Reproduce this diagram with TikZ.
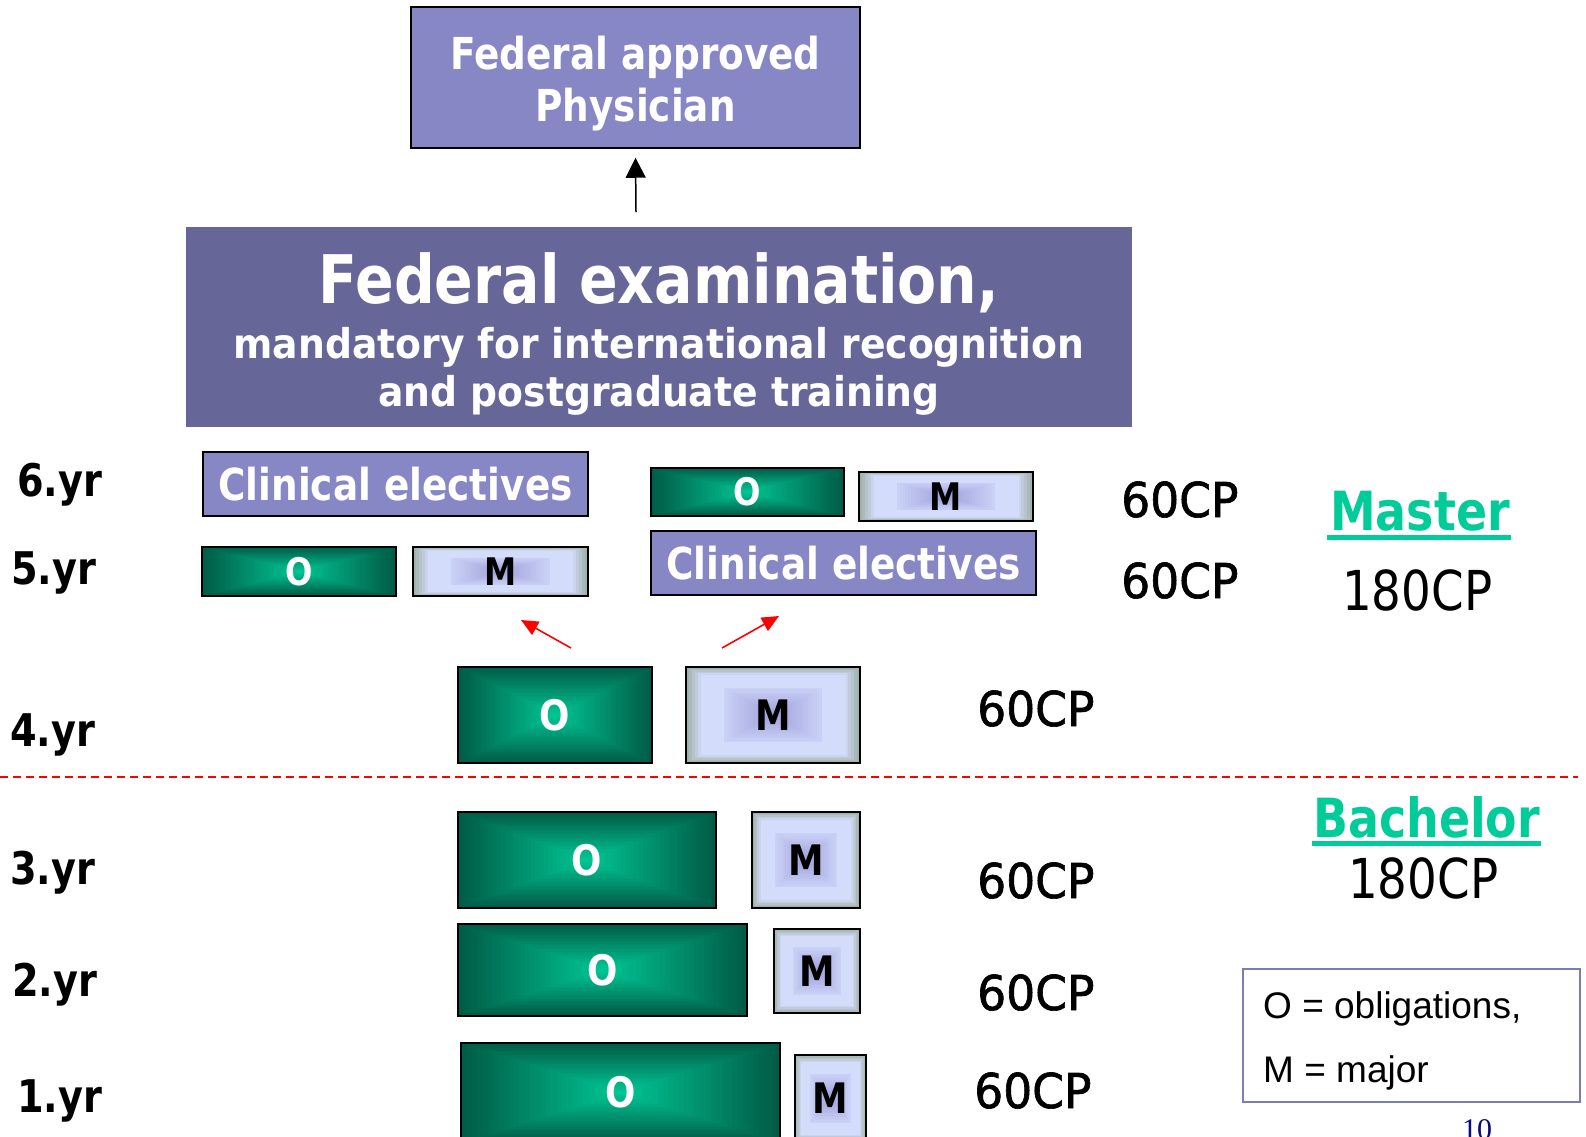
\documentclass[tikz,border=0pt]{standalone}
\usepackage{fontspec}
\setmainfont{DejaVu Sans}
\newfontfamily\fb[FakeStretch=0.85]{DejaVu Sans}
\newfontfamily\fbw[FakeStretch=0.92]{DejaVu Sans}
\newfontfamily\fcp[FakeStretch=0.95,FakeBold=1.3]{DejaVu Sans}
\newfontfamily\fcpb[FakeStretch=0.85]{DejaVu Sans}
\newfontfamily\farial{Liberation Sans}
\newfontfamily\ftnr{Liberation Serif}
\usetikzlibrary{arrows.meta}
\definecolor{fapc}{RGB}{135,135,197}
\definecolor{exc}{RGB}{102,102,153}
\definecolor{odark}{RGB}{0,92,70}
\definecolor{olight}{RGB}{0,200,150}
\definecolor{mgray}{RGB}{160,178,170}
\definecolor{mlav}{RGB}{212,220,252}
\definecolor{mpur}{RGB}{145,145,210}
\definecolor{tealg}{RGB}{0,204,153}
\definecolor{legc}{RGB}{124,124,180}
\definecolor{navyc}{RGB}{10,10,120}
\newcommand\fs[1]{\fontsize{#1}{#1}\selectfont}
\tikzset{
  purplebox/.style={draw=black, line width=1.5pt, fill=fapc, text=white, inner sep=0pt},
  obx/.style={draw=black, line width=2pt, inner sep=0pt, text=white},
  mbx/.style={draw=black, line width=2pt, inner sep=0pt, text=black},
  yrlabel/.style={anchor=base west, inner sep=0pt, font=\fb\bfseries\fs{45}},
  cp/.style={anchor=base west, inner sep=0pt, font=\fcp\fs{48}},
  bigcp/.style={anchor=base west, inner sep=0pt, font=\fcpb\fs{55}},
  degree/.style={anchor=base west, inner sep=0pt, text=tealg, font=\fb\bfseries\fs{54}},
  uline/.style={draw=tealg, line width=5pt},
  redarrow/.style={draw=red, line width=1.6pt, -{Triangle[width=15pt,length=17pt]}},
  legtext/.style={anchor=base west, inner sep=0pt, font=\farial\fs{37}},
}
\newcommand\obox[6]{%
  \foreach \i in {0,...,30}{%
    \pgfmathsetmacro\myS{1-\i/30}%
    \pgfmathsetmacro\myP{100*\i/30}%
    \fill[olight!\myP!odark] ({(#2+#4)/2-\myS*(#4-#2)/2},{(#3+#5)/2-\myS*(#5-#3)/2}) rectangle ({(#2+#4)/2+\myS*(#4-#2)/2},{(#3+#5)/2+\myS*(#5-#3)/2});
  }%
  \node[obx, minimum width={#4-#2}, minimum height={#5-#3}, font={\fb\bfseries\fs{#6}}] (#1) at ({(#2+#4)/2},{(#3+#5)/2}) {O};%
}
\newcommand\mboxx[6]{%
  \foreach \i in {0,...,30}{%
    \pgfmathsetmacro\myS{1-\i/30}%
    \pgfmathsetmacro\myP{min(100,\i*20)}%
    \pgfmathsetmacro\myQ{\i<13 ? 0 : 15+(\i-13)*4}%
    \fill[mpur!\myQ!mlav!\myP!mgray] ({(#2+#4)/2-\myS*(#4-#2)/2},{(#3+#5)/2-\myS*(#5-#3)/2}) rectangle ({(#2+#4)/2+\myS*(#4-#2)/2},{(#3+#5)/2+\myS*(#5-#3)/2});
  }%
  \node[mbx, minimum width={#4-#2}, minimum height={#5-#3}, font={\fb\bfseries\fs{#6}}] (#1) at ({(#2+#4)/2},{(#3+#5)/2}) {M};%
}
\begin{document}
\begin{tikzpicture}[x=1pt,y=-1pt]
\useasboundingbox (0,0) rectangle (1586,1136);
\fill[white] (0,0) rectangle (1586,1136);

% top box
\node[purplebox, minimum width=449, minimum height=141] (fap) at (635.5,77.5) {};
\node[inner sep=0pt, text=white, align=center, font=\fb\bfseries\fontsize{44}{52}\selectfont] (faptxt) at (635.5,84) {Federal approved\\Physician};
\coordinate (atail) at (636,212);
\draw[line width=1.5pt, -{Triangle[width=20pt,length=20pt]}] (atail) -- ([yshift=-9pt]fap.south);

% exam box
\node[fill=exc, inner sep=0pt, minimum width=946, minimum height=200] (fex) at (659,327) {};
\node[inner sep=0pt, text=white, align=center, font=\fbw\bfseries\fontsize{41}{48}\selectfont] (fextxt) at (659,334)
  {{\fb\bfseries\fs{67}Federal examination,}\\[7pt]mandatory for international recognition\\and postgraduate training};

% clinical electives
\node[purplebox, minimum width=385, minimum height=64, font=\fb\bfseries\fs{44}] (ce6) at (395.5,484) {Clinical electives};
\node[purplebox, minimum width=385, minimum height=64, font=\fb\bfseries\fs{44}] (ce5) at (843.5,563) {Clinical electives};

% O / M boxes
\obox{o6}{651}{468}{844}{516}{38}
\mboxx{m6}{859}{472}{1033}{521}{38}
\obox{o5}{202}{547}{396}{596}{38}
\mboxx{m5}{413}{547}{588}{596}{38}
\obox{o4}{458}{667}{652}{763}{42}
\mboxx{m4}{686}{667}{860}{763}{42}
\obox{o3}{458}{812}{716}{908}{42}
\mboxx{m3}{752}{812}{860}{908}{42}
\obox{o2}{458}{924}{747}{1016}{42}
\mboxx{m2}{774}{929}{860}{1013}{42}
\obox{o1}{461}{1043}{780}{1142}{42}
\mboxx{m1}{795}{1055}{866}{1142}{42}

% red arrows
\coordinate (r1t) at (571,648);
\coordinate (r1h) at (521,620);
\coordinate (r2t) at (722,648);
\coordinate (r2h) at (779,616);
\draw[redarrow] (r1t) -- (r1h);
\draw[redarrow] (r2t) -- (r2h);

% dashed line
\coordinate (dl) at (0,777);
\coordinate (dr) at (1578,777);
\draw[red, line width=1.5pt, dash pattern=on 8pt off 5pt] (dl) -- (dr);

% year labels
\node[yrlabel] (y6) at (17,496) {6.yr};
\node[yrlabel] (y5) at (11,584) {5.yr};
\node[yrlabel] (y4) at (10,746) {4.yr};
\node[yrlabel] (y3) at (10,884) {3.yr};
\node[yrlabel] (y2) at (12,996) {2.yr};
\node[yrlabel] (y1) at (17,1112) {1.yr};

% credit points
\node[cp] (cp6) at (1121,517) {60CP};
\node[cp] (cp5) at (1121,598) {60CP};
\node[cp] (cp4) at (977,726) {60CP};
\node[cp] (cp3) at (977,898) {60CP};
\node[cp] (cp2) at (977,1010) {60CP};
\node[cp] (cp1) at (974,1108) {60CP};

% master / bachelor
\node[degree] (master) at (1330,530) {Master};
\draw[uline] ([xshift=-3pt,yshift=-7pt]master.base west) -- ([xshift=1pt,yshift=-7pt]master.base east);
\node[bigcp] (mcp) at (1342,610) {180CP};
\node[degree] (bachelor) at (1313,837) {Bachelor};
\draw[uline] ([xshift=-1pt,yshift=-6pt]bachelor.base west) -- ([xshift=1pt,yshift=-6pt]bachelor.base east);
\node[bigcp] (bcp) at (1348,898) {180CP};

% legend
\node[draw=legc, line width=2pt, inner sep=0pt, minimum width=337, minimum height=133] (legend) at (1411.5,1035.5) {};
\node[legtext] (leg1) at (1263,1018) {O = obligations,};
\node[legtext] (leg2) at (1263,1082) {M = major};

% page number
\node[anchor=base west, inner sep=0pt, text=navyc, font=\ftnr\fs{30}] (pnum) at (1462,1139) {10};
\end{tikzpicture}
\end{document}
